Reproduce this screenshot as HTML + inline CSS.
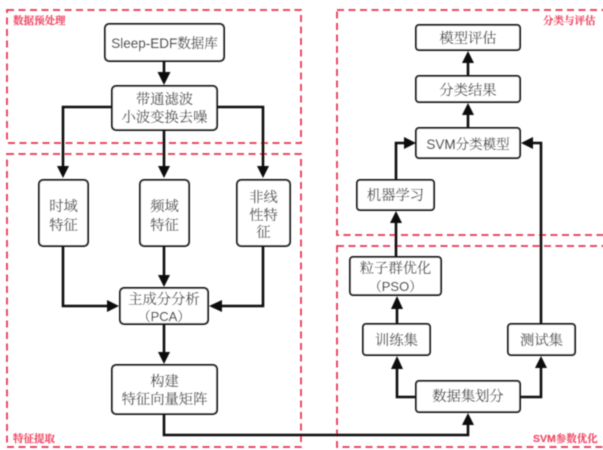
<!DOCTYPE html>
<html><head><meta charset="utf-8"><style>
html,body{margin:0;padding:0;background:#fff;width:603px;height:450px;overflow:hidden}
svg{display:block}
.r{fill:none;stroke:#e8304f;stroke-width:1.7;stroke-dasharray:7 4.5}
.n{fill:#fff;stroke:#1a1a1a;stroke-width:2}
.c{fill:none;stroke:#0c0c0c;stroke-width:2.6}
.a{fill:#0c0c0c}
text{font-family:"Liberation Sans","Noto Serif CJK SC",serif;fill:#444;font-size:14.3px;text-anchor:middle;stroke:#444;stroke-width:.15}
.l{fill:#ee4a66;stroke:#ee4a66;font-size:10.5px;font-weight:bold;text-anchor:start}
</style></head><body>
<svg width="603" height="450" viewBox="0 0 603 450" xmlns="http://www.w3.org/2000/svg">
<defs><filter id="b" x="-2%" y="-2%" width="104%" height="104%"><feGaussianBlur stdDeviation="0.4"/></filter></defs>
<g filter="url(#b)">
<rect class="r" x="7" y="10" width="294" height="133"/>
<rect class="r" x="7" y="154" width="294" height="293"/>
<rect class="r" x="337" y="10" width="268" height="225"/>
<rect class="r" x="337" y="246" width="268" height="201"/>
<path class="c" d="M164 61V74M164 130V168M112 107H63V168M217 107H263V168M63 246V306H109M164 246V277M263 246V306H220M164 324V354M164 414V435H468V424M416 397H397V368M520 397H541V368M397 324V308M396 257V222M396 180V143H405M541 324V143H532M468 128V114M468 76V62"/>
<path class="a" d="M164 85l-6.500-13h13zM63 178l-6-12h12zM164 178l-6-12h12zM263 178l-6-12h12zM164 287l-6-12h12zM164 364l-6-12h12zM119 306l-12-6v12zM209 306l13-6v12zM397 356l-6 13h12zM541 356l-6 12h12zM397 296l-6 13h12zM396 211l-6 12h12zM416 143l-12-6v12zM521 143l12-6v12zM468 103l-6 12h12zM468 51l-6 12h12zM468 413l-6 12h12z"/>
<rect class="n" x="105" y="24" width="119" height="37" rx="4"/>
<rect class="n" x="112" y="86" width="105" height="44" rx="4"/>
<rect class="n" x="39" y="180" width="49" height="66" rx="4"/>
<rect class="n" x="140" y="180" width="49" height="66" rx="4"/>
<rect class="n" x="237" y="180" width="53" height="66" rx="4"/>
<rect class="n" x="120" y="288" width="88" height="36" rx="4"/>
<rect class="n" x="112" y="365" width="105" height="49" rx="4"/>
<rect class="n" x="416" y="25" width="104" height="25" rx="3"/>
<rect class="n" x="416" y="76" width="104" height="26" rx="3"/>
<rect class="n" x="416" y="128" width="104" height="30" rx="3"/>
<rect class="n" x="357" y="180" width="77" height="30" rx="3"/>
<rect class="n" x="350" y="257" width="91" height="38" rx="3"/>
<rect class="n" x="363" y="324" width="67" height="31" rx="3"/>
<rect class="n" x="508" y="324" width="67" height="31" rx="3"/>
<rect class="n" x="416" y="381" width="104" height="31" rx="3"/>
<text class="l" x="13" y="24">数据预处理</text>
<text class="l" x="13" y="442">特征提取</text>
<text class="l" x="543" y="24">分类与评估</text>
<text class="l" x="533" y="442">SVM参数优化</text>
<text x="164.500" y="48" style="font-size:13.500px">Sleep-EDF数据库</text>
<text x="164.500" y="104">带通滤波</text>
<text x="164.500" y="122">小波变换去噪</text>
<text x="63.500" y="211">时域</text>
<text x="63.500" y="230">特征</text>
<text x="164.500" y="211">频域</text>
<text x="164.500" y="230">特征</text>
<text x="263.500" y="202">非线</text>
<text x="263.500" y="220">性特</text>
<text x="263.500" y="237">征</text>
<text x="164" y="304">主成分分析</text>
<text x="164" y="321" style="font-size:13px">（PCA）</text>
<text x="164.500" y="386">构建</text>
<text x="164.500" y="404">特征向量矩阵</text>
<text x="468" y="43">模型评估</text>
<text x="468" y="95">分类结果</text>
<text x="468" y="149" style="font-size:13.500px">SVM分类模型</text>
<text x="395.500" y="200">机器学习</text>
<text x="395.500" y="273">粒子群优化</text>
<text x="395.500" y="291" style="font-size:13px">（PSO）</text>
<text x="396.500" y="345">训练集</text>
<text x="541.500" y="345">测试集</text>
<text x="468" y="401">数据集划分</text>
</g>
</svg>
</body></html>
